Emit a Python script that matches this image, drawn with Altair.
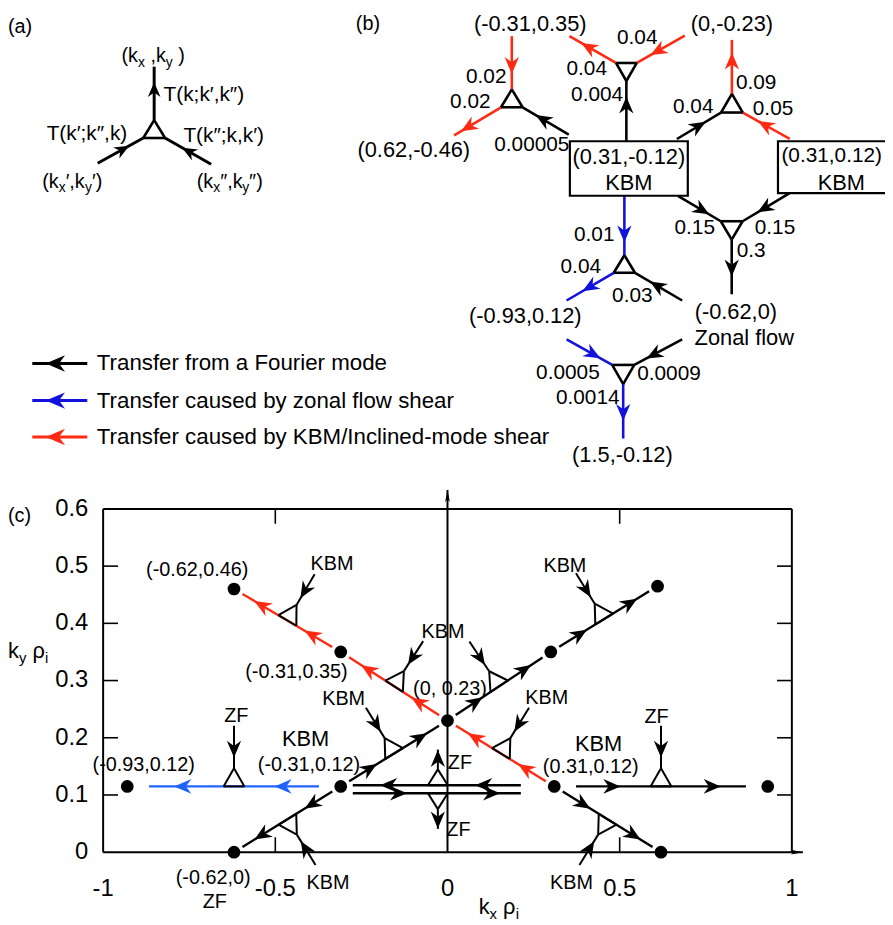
import math
import altair as alt
import pandas as pd

# ---------------------------------------------------------------- figure setup
W, H = 885, 917
FONT = "Liberation Sans"
BLACK = "#000000"
RED = "#ff2a12"
BLUE_B = "#1212dc"
BLUE_C = "#1f64ff"

# panel (c) wavenumber scales (kx, ky)
KX_DOMAIN = [-1.0, 1.0]
KX_RANGE = [96.0, 791.0]
KY_DOMAIN = [0.0, 0.6]
KY_RANGE = [847.7, 501.3]
# diagram units for panels (a), (b) and the legend
PX_DOMAIN = [8.0, 893.0]
PX_RANGE = [0.0, 885.0]
PY_DOMAIN = [8.0, 925.0]
PY_RANGE = [0.0, 917.0]

ARROW = "M0,-1L0.85,1L0,0.38L-0.85,1Z"
AXIS_ARROW = "M0,-1L0.4,1L0,0.55L-0.4,1Z"

# ---------------------------------------------------------------- panel (a)
A_TRI_X = [155.5, 144.5, 166.5]
A_TRI_Y = [117.0, 135.0, 135.0]
A_LEG_X0 = [155.5, 98.5, 213.0]
A_LEG_Y0 = [117.0, 160.5, 161.5]
A_LEG_X1 = [155.5, 144.5, 166.5]
A_LEG_Y1 = [63.0, 135.0, 135.0]
A_LEG_T = [0.57, 0.55, 0.49]
A_LABELS = ["(a)", "T(k;k\u2032,k\u2033)", "T(k\u2032;k\u2033,k)", "T(k\u2033;k,k\u2032)"]
A_LABEL_X = [8.0, 165.0, 47.0, 185.0]
A_LABEL_Y = [23.0, 92.0, 131.0, 133.0]
A_LABEL_SIZE = [20, 21, 21, 21]
# wave-vector labels: pieces (text, is_subscript), start x, baseline
A_VEC_PARTS = [
    [("(k", 0), ("x", 1), (" ,k", 0), ("y", 1), (" )", 0)],
    [("(k", 0), ("x", 1), ("\u2032,k", 0), ("y", 1), ("\u2032)", 0)],
    [("(k", 0), ("x", 1), ("\u2033,k", 0), ("y", 1), ("\u2033)", 0)],
]
A_VEC_X = [122.5, 42.5, 198.5]
A_VEC_Y = [58.5, 185.0, 185.0]

# ---------------------------------------------------------------- panel (b)
B_TRI = [
    (516.4, 86.0, 505.5, 104.0, 527.3, 104.0),
    (621.5, 59.3, 642.5, 59.3, 632.0, 77.5),
    (738.5, 90.5, 727.5, 109.3, 749.5, 109.3),
    (727.3, 219.0, 749.3, 219.0, 738.3, 237.5),
    (630.0, 253.3, 619.3, 271.0, 640.7, 271.0),
    (617.7, 364.0, 640.0, 364.0, 628.8, 383.3),
]
B_LINK_X0 = [516.4, 505.5, 573.9, 621.5, 691.0, 632.0, 738.5, 683.0, 796.8,
             684.0, 796.7, 738.3, 630.0, 619.3, 688.3, 571.7, 688.3, 628.8]
B_LINK_Y0 = [32.3, 104.0, 131.7, 59.3, 31.7, 138.3, 90.5, 136.0, 136.0,
             193.3, 190.7, 237.5, 193.3, 271.0, 299.0, 338.3, 338.3, 383.3]
B_LINK_X1 = [516.4, 458.2, 527.3, 574.6, 642.5, 632.0, 738.5, 727.5, 749.5,
             727.3, 749.3, 738.3, 630.0, 571.7, 640.7, 617.7, 640.0, 628.8]
B_LINK_Y1 = [86.0, 132.3, 104.0, 32.3, 59.3, 77.5, 36.0, 109.3, 109.3,
             219.0, 219.0, 292.7, 253.3, 299.0, 271.0, 364.0, 364.0, 438.3]
B_LINK_COL = ["r", "r", "k", "r", "r", "k", "r", "k", "r",
              "k", "k", "k", "b", "b", "k", "b", "k", "b"]
B_LINK_T = [0.55, 0.70, 0.56, 0.59, 0.56, 0.60, 0.61, 0.49, 0.52,
            0.56, 0.53, 0.52, 0.64, 0.51, 0.53, 0.58, 0.59, 0.52]
B_BOX = [(575.0, 138.3, 694.0, 193.3), (785.0, 138.3, 915.0, 190.7)]
B_TEXT = ["(-0.31,0.35)", "(0,-0.23)", "0.02", "0.02", "0.00005", "(0.62,-0.46)",
          "0.04", "0.04", "0.004", "0.09", "0.04", "0.05",
          "(0.31,-0.12)", "KBM", "(0.31,0.12)", "KBM",
          "0.15", "0.15", "0.3", "(-0.62,0)", "Zonal flow",
          "0.01", "0.04", "0.03", "(-0.93,0.12)",
          "0.0005", "0.0009", "0.0014", "(1.5,-0.12)"]
B_TEXT_X = [535.0, 738.5, 511.0, 495.0, 536.6, 417.5,
            643.0, 592.0, 602.5, 763.0, 699.5, 780.0,
            634.5, 634.5, 788.5, 849.0,
            701.0, 782.0, 758.0, 742.5, 751.0,
            620.0, 586.0, 638.0, 530.0,
            573.0, 675.0, 593.0, 628.0]
B_TEXT_Y = [20.0, 20.0, 74.0, 99.0, 141.7, 147.3,
            34.0, 65.7, 92.0, 80.0, 104.0, 105.7,
            154.0, 180.5, 153.0, 180.0,
            226.0, 226.0, 249.0, 311.0, 337.0,
            233.0, 265.0, 294.0, 315.0,
            372.0, 373.0, 397.0, 455.0]
B_TEXT_ALIGN = ["center", "center", "right", "right", "center", "center",
                "center", "center", "center", "center", "center", "center",
                "center", "center", "left", "center",
                "center", "center", "center", "center", "center",
                "right", "center", "center", "center",
                "center", "center", "center", "center"]
B_TEXT_SIZE = [22, 22, 21, 21, 21, 22,
               21, 21, 21, 21, 21, 21,
               22, 22, 21, 22,
               21, 21, 21, 22, 22,
               21, 21, 21, 22,
               21, 21, 21, 22]

# ---------------------------------------------------------------- legend
LEG_Y = [362.5, 400.0, 436.7]
LEG_COL = ["k", "b", "r"]
LEG_TEXT = ["Transfer from a Fourier mode",
            "Transfer caused by zonal flow shear",
            "Transfer caused by KBM/Inclined-mode shear"]
LEG_LINE_X = [88.0, 32.5]
LEG_TEXT_X = 97.6

# ---------------------------------------------------------------- panel (c)
DOT_KX = [-0.62, -0.31, 0.00, -0.31, -0.93, -0.62, 0.61, 0.30, 0.31, 0.93, 0.62]
DOT_KY = [0.46, 0.35, 0.23, 0.115, 0.115, 0.00, 0.465, 0.35, 0.115, 0.115, 0.00]
C_FROM = [2, 1, 2, 7, 3, 8, 8, 3, 3, 8]
C_TO = [1, 0, 7, 6, 2, 2, 10, 5, 4, 9]
C_COL = ["r", "r", "k", "k", "k", "r", "k", "k", "c", "k"]
C_SIDE = ["up", "up", "up", "up", "up", "up", "down", "down", "up", "up"]
C_GAP = [10, 10, 10, 10, 10, 10, 10, 10, 22, 22]
C_ARM = [36, 36, 36, 36, 36, 36, 36, 36, 43, 43]
HEAD_T = [0.27, 0.74]
# the two anti-parallel lines between (-0.31,0.12) and (0.31,0.12)
DBL_KY = [0.117, 0.103]
DBL_FROM_KX = [0.213, -0.275]
DBL_TO_KX = [-0.275, 0.213]
DBL_HEAD_KX = [[0.105, -0.171], [-0.142, 0.128]]
DBL_SIDE = ["up", "down"]
DBL_TRI_KX = -0.028

C_TEXT = ["(-0.62,0.46)", "(-0.31,0.35)", "(0, 0.23)", "(-0.31,0.12)", "(-0.93,0.12)",
          "(-0.62,0)", "ZF", "(0.31,0.12)", "KBM", "KBM", "ZF", "ZF", "ZF", "ZF",
          "KBM", "KBM", "KBM", "KBM", "KBM", "KBM", "KBM"]
C_TEXT_KX = [-0.7266, -0.4388, 0.0072, -0.4023, -0.882,
             -0.6806, -0.6757, 0.4158, -0.4121, 0.4388, -0.6135, 0.6072, 0.036, 0.0317,
             -0.3353, -0.013, -0.3016, 0.2883, 0.341, 0.3603, -0.3468]
C_TEXT_KY = [0.4932, 0.3147, 0.2858, 0.1528, 0.1519,
             -0.045, -0.0863, 0.1493, 0.197, 0.1888, 0.2377, 0.2359, 0.1559, 0.0385,
             0.5036, 0.384, 0.2668, 0.2697, 0.5006, -0.0537, -0.0537]
C_TEXT_SIZE = [20, 20, 20, 20, 20, 20, 20, 20, 22, 22, 20, 20, 20, 20,
               20, 20, 20, 20, 20, 20, 20]

Y_TICKS = [0.0, 0.1, 0.2, 0.3, 0.4, 0.5, 0.6]
X_TICKS = [-1.0, -0.5, 0.0, 0.5, 1.0]
X_TICK_LABELS = ["-1", "-0.5", "0", "0.5", "1"]
Y_TICK_LABELS = ["0", "0.1", "0.2", "0.3", "0.4", "0.5", "0.6"]
AXIS_X_END = 1.032
AXIS_Y_END = 0.633

# axis titles (diagram units): pieces, start x, baseline
TITLE_PARTS = [
    [("k", 0), ("y", 1), (" ", 0), ("\u03c1", 0), ("i", 1)],
    [("k", 0), ("x", 1), (" ", 0), ("\u03c1", 0), ("i", 1)],
]
TITLE_X = [8.0, 483.0]
TITLE_Y = [660.0, 918.0]

COLOR_OF = {"k": BLACK, "r": RED, "b": BLUE_B, "c": BLUE_C}
CHAR_W = {"(": 0.333, ")": 0.333, "k": 0.5, "x": 0.5, "y": 0.5, ",": 0.278, " ": 0.278,
          "\u2032": 0.2, "\u2033": 0.33, "\u03c1": 0.58, "i": 0.222}


# ---------------------------------------------------------------- helpers
def px_per_unit(sys):
    if sys == "c":
        return ((KX_RANGE[1] - KX_RANGE[0]) / (KX_DOMAIN[1] - KX_DOMAIN[0]),
                (KY_RANGE[1] - KY_RANGE[0]) / (KY_DOMAIN[1] - KY_DOMAIN[0]))
    return ((PX_RANGE[1] - PX_RANGE[0]) / (PX_DOMAIN[1] - PX_DOMAIN[0]),
            (PY_RANGE[1] - PY_RANGE[0]) / (PY_DOMAIN[1] - PY_DOMAIN[0]))


SEGS = {"p": [], "c": []}
HEADS = {"p": [], "c": []}
TEXTS = {"p": [], "c": []}


def heading(sys, dx, dy):
    sx, sy = px_per_unit(sys)
    return math.degrees(math.atan2(dx * sx, -dy * sy)) % 360.0


def offset(sys, x, y, ox, oy):
    sx, sy = px_per_unit(sys)
    return x + ox / sx, y + oy / sy


def seg(sys, x0, y0, x1, y1, color, sw):
    SEGS[sys].append(dict(x=x0, y=y0, x2=x1, y2=y1, color=color, sw=sw))


def link(sys, x0, y0, x1, y1, color, sw, ts, size, gap0=0.0, gap1=0.0):
    sx, sy = px_per_unit(sys)
    L = math.hypot((x1 - x0) * sx, (y1 - y0) * sy)
    f0, f1 = gap0 / L, 1.0 - gap1 / L
    seg(sys, x0 + (x1 - x0) * f0, y0 + (y1 - y0) * f0,
        x0 + (x1 - x0) * f1, y0 + (y1 - y0) * f1, color, sw)
    for t in ts:
        HEADS[sys].append(dict(x=x0 + (x1 - x0) * t, y=y0 + (y1 - y0) * t,
                               ang=heading(sys, x1 - x0, y1 - y0), color=color, sz=size))


def tri(sys, xs, ys, sw):
    for i in range(3):
        j = (i + 1) % 3
        seg(sys, xs[i], ys[i], xs[j], ys[j], BLACK, sw)


def text(sys, s, x, y, size, align="center", baseline="middle"):
    TEXTS[sys].append(dict(text=s, x=x, y=y, size=size, align=align, baseline=baseline))


def pieces(sys, parts, x, y, size, subsize, drop):
    for s, sub in parts:
        z = subsize if sub else size
        lead = len(s) - len(s.lstrip(" "))
        body = s.strip(" ")
        if body:
            text(sys, body, x + lead * CHAR_W[" "] * z, y + (drop if sub else 0.0), z,
                 "left", "alphabetic")
        x += sum(CHAR_W.get(ch, 0.55) for ch in s) * z


def perp(sys, x0, y0, x1, y1, side):
    sx, sy = px_per_unit(sys)
    X, Y = (x1 - x0) * sx, (y1 - y0) * sy
    L = math.hypot(X, Y)
    ux, uy = X / L, Y / L
    px_, py_ = -uy, ux
    if (py_ < 0) != (side == "up"):
        px_, py_ = -px_, -py_
    return ux, uy, px_, py_


def vertex(sys, mx, my, ux, uy, px_, py_, base, height, arm):
    b1 = offset(sys, mx, my, -ux * base / 2, -uy * base / 2)
    b2 = offset(sys, mx, my, ux * base / 2, uy * base / 2)
    ap = offset(sys, mx, my, px_ * height, py_ * height)
    tri(sys, [b1[0], b2[0], ap[0]], [b1[1], b2[1], ap[1]], 2.0)
    tail = offset(sys, ap[0], ap[1], px_ * arm, py_ * arm)
    return ap, tail


# ---------------------------------------------------------------- build panel (a)
for i in range(3):
    link("p", A_LEG_X0[i], A_LEG_Y0[i], A_LEG_X1[i], A_LEG_Y1[i], BLACK, 3.0, [A_LEG_T[i]], 225)
tri("p", A_TRI_X, A_TRI_Y, 2.6)
for s, x, y, z in zip(A_LABELS, A_LABEL_X, A_LABEL_Y, A_LABEL_SIZE):
    text("p", s, x, y, z, "left")
for parts, x, y in zip(A_VEC_PARTS, A_VEC_X, A_VEC_Y):
    pieces("p", parts, x, y, 20, 14, 4.5)

# ---------------------------------------------------------------- build panel (b)
text("p", "(b)", 359.0, 20.0, 20, "left")
for i in range(len(B_LINK_X0)):
    link("p", B_LINK_X0[i], B_LINK_Y0[i], B_LINK_X1[i], B_LINK_Y1[i],
         COLOR_OF[B_LINK_COL[i]], 2.6, [B_LINK_T[i]], 289)
for t in B_TRI:
    tri("p", [t[0], t[2], t[4]], [t[1], t[3], t[5]], 2.6)
for s, x, y, a, z in zip(B_TEXT, B_TEXT_X, B_TEXT_Y, B_TEXT_ALIGN, B_TEXT_SIZE):
    text("p", s, x, y, z, a)

# ---------------------------------------------------------------- legend
for y, c, s in zip(LEG_Y, LEG_COL, LEG_TEXT):
    link("p", LEG_LINE_X[0], y, LEG_LINE_X[1], y, COLOR_OF[c], 3.0, [0.58], 380)
    text("p", s, LEG_TEXT_X, y, 22.5, "left")

# ---------------------------------------------------------------- panel (c)
TICK = 15.0
seg("c", -1, 0, -1, 0.6, BLACK, 2.0)
seg("c", -1, 0.6, 1, 0.6, BLACK, 2.0)
seg("c", 1, 0.6, 1, 0, BLACK, 2.0)
seg("c", -1, 0, AXIS_X_END, 0, BLACK, 2.0)
seg("c", 0, 0, 0, AXIS_Y_END, BLACK, 2.0)
AX_HEADS = []
hx = offset("c", AXIS_X_END, 0, -6, 0)
AX_HEADS.append(dict(x=hx[0], y=hx[1], ang=heading("c", 1, 0), color=BLACK, sz=144))
hy = offset("c", 0, AXIS_Y_END, 0, 6)
AX_HEADS.append(dict(x=hy[0], y=hy[1], ang=heading("c", 0, 1), color=BLACK, sz=144))
for v in Y_TICKS[1:-1]:
    a = offset("c", -1, v, TICK, 0)
    seg("c", -1, v, a[0], a[1], BLACK, 1.6)
    b = offset("c", 1, v, -TICK, 0)
    seg("c", 1, v, b[0], b[1], BLACK, 1.6)
for v in [-0.5, 0.5]:
    a = offset("c", v, 0.6, 0, TICK)
    seg("c", v, 0.6, a[0], a[1], BLACK, 1.6)
    b = offset("c", v, 0, 0, -TICK)
    seg("c", v, 0, b[0], b[1], BLACK, 1.6)
for v, s in zip(Y_TICKS, Y_TICK_LABELS):
    p = offset("c", -1, v, -15, 0)
    text("c", s, p[0], p[1], 24, "right")
for v, s in zip(X_TICKS, X_TICK_LABELS):
    p = offset("c", v, 0, 0, 37)
    text("c", s, p[0], p[1], 24, "center")

for i in range(len(C_FROM)):
    a, b = C_FROM[i], C_TO[i]
    x0, y0, x1, y1 = DOT_KX[a], DOT_KY[a], DOT_KX[b], DOT_KY[b]
    link("c", x0, y0, x1, y1, COLOR_OF[C_COL[i]], 2.4, HEAD_T, 300, C_GAP[i], C_GAP[i])
for i in range(len(C_FROM)):
    a, b = C_FROM[i], C_TO[i]
    x0, y0, x1, y1 = DOT_KX[a], DOT_KY[a], DOT_KX[b], DOT_KY[b]
    ux, uy, px_, py_ = perp("c", x0, y0, x1, y1, C_SIDE[i])
    ap, tail = vertex("c", (x0 + x1) / 2, (y0 + y1) / 2, ux, uy, px_, py_, 21.0, 18.2, C_ARM[i])
    link("c", tail[0], tail[1], ap[0], ap[1], BLACK, 2.0, [0.55], 289)
for ky, kx0, kx1, hk, side in zip(DBL_KY, DBL_FROM_KX, DBL_TO_KX, DBL_HEAD_KX, DBL_SIDE):
    ts = [(h - kx0) / (kx1 - kx0) for h in hk]
    link("c", kx0, ky, kx1, ky, BLACK, 2.4, ts, 300)
    ux, uy, px_, py_ = perp("c", kx0, ky, kx1, ky, side)
    ap, tail = vertex("c", DBL_TRI_KX, ky, ux, uy, px_, py_, 20.0, 16.0, 20.0)
    link("c", ap[0], ap[1], tail[0], tail[1], BLACK, 2.0, [0.55], 289)

for s, x, y, z in zip(C_TEXT, C_TEXT_KX, C_TEXT_KY, C_TEXT_SIZE):
    text("c", s, x, y, z, "center")
text("p", "(c)", 8.0, 517.0, 20, "left")
for parts, x, y in zip(TITLE_PARTS, TITLE_X, TITLE_Y):
    pieces("p", parts, x, y, 22, 15, 5.0)


# ---------------------------------------------------------------- encodings
def xy(sys, two=False):
    if sys == "c":
        xs = alt.Scale(domain=KX_DOMAIN, range=KX_RANGE, nice=False, zero=False)
        ys = alt.Scale(domain=KY_DOMAIN, range=KY_RANGE, nice=False, zero=False)
    else:
        xs = alt.Scale(domain=PX_DOMAIN, range=PX_RANGE, nice=False, zero=False)
        ys = alt.Scale(domain=PY_DOMAIN, range=PY_RANGE, nice=False, zero=False)
    enc = dict(x=alt.X("x:Q", scale=xs, axis=None), y=alt.Y("y:Q", scale=ys, axis=None))
    if two:
        enc["x2"] = alt.X2("x2:Q")
        enc["y2"] = alt.Y2("y2:Q")
    return enc


def rule_layer(rows, sys):
    return alt.Chart(pd.DataFrame(rows)).mark_rule().encode(
        **xy(sys, True),
        color=alt.Color("color:N", scale=None, legend=None),
        strokeWidth=alt.StrokeWidth("sw:Q", scale=None, legend=None))


def head_layer(rows, sys, shape=ARROW):
    return alt.Chart(pd.DataFrame(rows)).mark_point(
        shape=shape, filled=True, opacity=1, strokeWidth=0).encode(
        **xy(sys),
        angle=alt.Angle("ang:Q", scale=None),
        color=alt.Color("color:N", scale=None, legend=None),
        size=alt.Size("sz:Q", scale=None, legend=None))


def text_layers(rows, sys):
    df = pd.DataFrame(rows)
    out = []
    for (size, align, baseline), g in df.groupby(["size", "align", "baseline"]):
        out.append(alt.Chart(g.reset_index(drop=True)).mark_text(
            font=FONT, fontSize=float(size), align=str(align), baseline=str(baseline),
            color=BLACK).encode(**xy(sys), text="text:N"))
    return out


box_df = pd.DataFrame([dict(x=b[0], y=b[1], x2=b[2], y2=b[3]) for b in B_BOX])
boxes = alt.Chart(box_df).mark_rect(fill="white", stroke=BLACK, strokeWidth=2.2).encode(**xy("p", True))

dots = alt.Chart(pd.DataFrame(dict(x=DOT_KX, y=DOT_KY))).mark_circle(
    size=165, color=BLACK, opacity=1).encode(**xy("c"))

panel_c = alt.layer(
    rule_layer(SEGS["c"], "c"),
    head_layer(HEADS["c"], "c"),
    head_layer(AX_HEADS, "c", AXIS_ARROW),
    dots,
    *text_layers(TEXTS["c"], "c"),
)
panel_p = alt.layer(
    rule_layer(SEGS["p"], "p"),
    boxes,
    head_layer(HEADS["p"], "p"),
    *text_layers(TEXTS["p"], "p"),
)

chart = alt.layer(panel_c, panel_p).resolve_scale(
    x="independent", y="independent"
).properties(
    width=W, height=H, padding=0,
    autosize=alt.AutoSizeParams(type="none"),
    background="white",
).configure_view(stroke="transparent")

chart.save("out.html", embed_options={"renderer": "svg", "actions": False})
